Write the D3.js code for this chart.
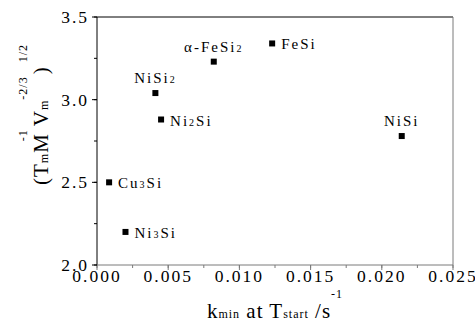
<!DOCTYPE html>
<html>
<head>
<meta charset="utf-8">
<script src="https://cdn.jsdelivr.net/npm/d3@7"></script>
<style>
  html, body { margin: 0; padding: 0; background: #fff; }
  svg { display: block; }
</style>
</head>
<body>
<svg id="chart" width="475" height="322" font-family="'Liberation Serif', 'Times New Roman', 'DejaVu Serif', serif"></svg>
<script>
// ---- data ----
const compounds = ["Cu3Si", "Ni3Si", "NiSi2", "Ni2Si", "α-FeSi2", "FeSi", "NiSi"];
const kmin = [0.00085, 0.0020, 0.0041, 0.0045, 0.0082, 0.0123, 0.0214];
const param = [2.50, 2.20, 3.04, 2.88, 3.23, 3.34, 2.78];
const labelSide = ["right", "right", "above", "right", "above", "right", "above"];
const xTicks = [0.000, 0.005, 0.010, 0.015, 0.020, 0.025];
const yTicks = [2.0, 2.5, 3.0, 3.5];

// ---- layout ----
const W = 475, H = 322;
const margin = {left: 97, right: 22, top: 17, bottom: 57};
const svg = d3.select("#chart");
const iw = W - margin.left - margin.right;
const ih = H - margin.top - margin.bottom;

const x = d3.scaleLinear().domain([0, 0.025]).range([margin.left, margin.left + iw]);
const y = d3.scaleLinear().domain([2.0, 3.5]).range([margin.top + ih, margin.top]);

const grey = "#7a7a7a";
const LS = "2px";

const xMinor = d3.range(0, 0.02501, 0.0025);
const yMinor = d3.range(2.0, 3.501, 0.25);

// bottom axis
const gx = svg.append("g").attr("transform", `translate(0,${margin.top + ih})`);
gx.selectAll("line.minor").data(xMinor).join("line")
  .attr("x1", d => x(d)).attr("x2", d => x(d)).attr("y1", 0).attr("y2", 3)
  .attr("stroke", grey).attr("stroke-width", 1);
gx.selectAll("line.major").data(xTicks).join("line")
  .attr("x1", d => x(d)).attr("x2", d => x(d)).attr("y1", 0).attr("y2", 5)
  .attr("stroke", grey).attr("stroke-width", 1);
gx.selectAll("text").data(xTicks).join("text")
  .attr("x", d => x(d)).attr("y", 17)
  .attr("text-anchor", "middle")
  .style("font-size", "17.5px").style("letter-spacing", LS)
  .text(d => d3.format(".3f")(d));

// left axis
const gy = svg.append("g").attr("transform", `translate(${margin.left},0)`);
gy.selectAll("line.minor").data(yMinor).join("line")
  .attr("x1", -3).attr("x2", 0).attr("y1", d => y(d)).attr("y2", d => y(d))
  .attr("stroke", "#000").attr("stroke-width", 1);
gy.selectAll("line.major").data(yTicks).join("line")
  .attr("x1", -5).attr("x2", 0).attr("y1", d => y(d)).attr("y2", d => y(d))
  .attr("stroke", "#000").attr("stroke-width", 1);
gy.selectAll("text").data(yTicks).join("text")
  .attr("x", -8).attr("y", d => y(d)).attr("dy", "0.35em")
  .attr("text-anchor", "end")
  .style("font-size", "17.5px").style("letter-spacing", LS)
  .text(d => d3.format(".1f")(d));

// frame
const x0 = x(0), x1 = x(0.025), y0 = y(2.0), y1 = y(3.5);
svg.append("line").attr("x1", x0).attr("x2", x1).attr("y1", y1).attr("y2", y1).attr("stroke", "#000");
svg.append("line").attr("x1", x0).attr("x2", x0).attr("y1", y1).attr("y2", y0).attr("stroke", "#000");
svg.append("line").attr("x1", x1).attr("x2", x1).attr("y1", y1).attr("y2", y0).attr("stroke", grey);
svg.append("line").attr("x1", x0).attr("x2", x1).attr("y1", y0).attr("y2", y0).attr("stroke", grey);

// points
const pts = compounds.map((c, i) => ({name: c, k: kmin[i], v: param[i], side: labelSide[i]}));
const ms = 6;
svg.append("g").selectAll("rect").data(pts).join("rect")
  .attr("x", d => x(d.k) - ms / 2).attr("y", d => y(d.v) - ms / 2)
  .attr("width", ms).attr("height", ms).attr("fill", "#000");

// labels with small subscript digits
const lab = svg.append("g").selectAll("text").data(pts).join("text")
  .attr("x", d => d.side === "right" ? x(d.k) + 9 : x(d.k))
  .attr("y", d => d.side === "right" ? y(d.v) + 6 : y(d.v) - 10)
  .attr("text-anchor", d => d.side === "right" ? "start" : "middle")
  .style("font-size", "15px").style("letter-spacing", LS);
lab.each(function(d) {
  const t = d3.select(this);
  const parts = d.name.match(/(\d+|[^\d]+)/g);
  parts.forEach(p => {
    const isNum = /^\d+$/.test(p);
    t.append("tspan").style("font-size", isNum ? "10px" : "15px").text(p);
  });
});

// x-axis title
const xt = svg.append("text")
  .attr("x", (x0 + x1) / 2).attr("y", H - 4)
  .attr("text-anchor", "middle")
  .style("font-size", "21px").style("letter-spacing", "1px");
xt.append("tspan").text("k");
xt.append("tspan").style("font-size", "12px").text("min");
xt.append("tspan").text(" at T");
xt.append("tspan").style("font-size", "12px").text("start");
xt.append("tspan").text(" /s");
xt.append("tspan").style("font-size", "12px").attr("dy", -20).text("-1");

// y-axis title
const yt = svg.append("text")
  .attr("transform", `translate(48,${y0 - 80}) rotate(-90)`)
  .attr("text-anchor", "start")
  .style("font-size", "21px").style("letter-spacing", "1px");
yt.append("tspan").text("(T");
yt.append("tspan").style("font-size", "12px").text("m");
yt.append("tspan").text("M");
yt.append("tspan").style("font-size", "12px").attr("dx", -8).attr("dy", -21).text("-1");
yt.append("tspan").attr("dy", 21).attr("dx", 3).text("V");
yt.append("tspan").style("font-size", "12px").text("m");
yt.append("tspan").style("font-size", "12px").attr("dy", -21).text("-2/3");
yt.append("tspan").attr("dy", 21).attr("dx", 2).text(")");
yt.append("tspan").style("font-size", "12px").attr("dy", -21).attr("dx", 4).text("1/2");
</script>
</body>
</html>
